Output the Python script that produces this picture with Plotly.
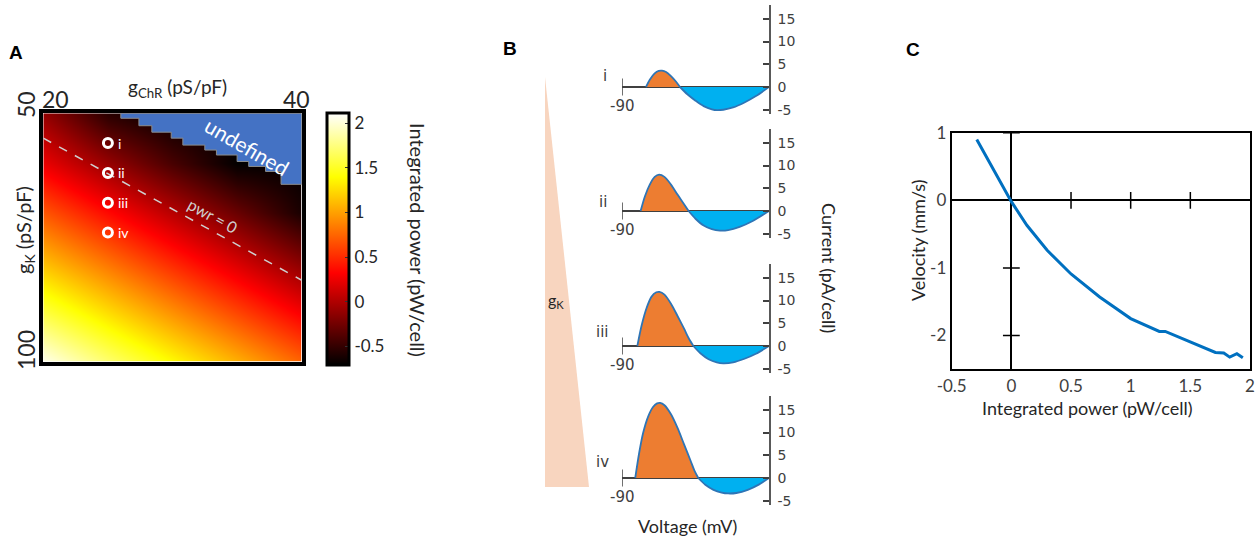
import plotly.graph_objects as go

W, H = 1255, 542
FONT = "Lato"
TXT = "#262626"

# ---------------- Panel A data ----------------
gchr = [20, 25, 30, 35, 40]
gk = [50, 60, 70, 80, 90, 100]
power_grid = [
    [-0.12, -0.55, -0.70, -0.70, -0.70],
    [0.24, -0.10, -0.42, -0.70, -0.70],
    [0.68, 0.35, 0.03, -0.29, -0.61],
    [1.12, 0.80, 0.48, 0.16, -0.16],
    [1.58, 1.25, 0.93, 0.61, 0.29],
    [2.05, 1.70, 1.38, 1.06, 0.74],
]
undef_gchr = [26.0, 26.0, 27.4, 28.4, 29.9, 30.8, 32.5, 33.4, 35.0, 35.9, 37.2, 38.4, 40.0, 40.0, 26.0]
undef_gk = [50.0, 51.0, 52.5, 53.8, 55.0, 56.4, 57.4, 58.4, 59.7, 60.7, 61.7, 64.3, 64.3, 50.0, 50.0]
pwr0_gchr = [20, 40]
pwr0_gk = [55.0, 83.6]
pts_gchr = [25, 25, 25, 25]
pts_gk = [56, 62, 68, 74]
pts_labels = ["i", "ii", "iii", "iv"]
cbar_ticks = [-0.5, 0, 0.5, 1, 1.5, 2]
cbar_text = ["-0.5", "0", "0.5", "1", "1.5", "2"]

# ---------------- Panel B data ----------------
volt_i = [-75.3, -73, -70, -67.5, -65.5, -63, -60, -57, -54.5,
          -50, -45, -40, -35, -31.8, -28, -22, -15, -8, 0]
curr_i = [0, 1.6, 3.0, 3.55, 3.6, 3.3, 2.4, 1.2, 0,
          -1.6, -3.0, -4.2, -4.9, -5.1, -5.0, -4.5, -3.4, -2.0, 0]
volt_ii = [-78.6, -76, -73, -70, -67.3, -64, -60, -56, -52, -49.2,
           -45, -40, -35, -30, -25, -18, -10, 0]
curr_ii = [0, 3.2, 5.8, 7.5, 8.0, 7.5, 5.8, 3.6, 1.5, 0,
           -1.7, -3.2, -4.0, -4.3, -4.2, -3.5, -2.2, 0]
volt_iii = [-80.6, -78, -75, -72, -69, -67.1, -64, -60, -56, -52, -49, -46.3,
            -42, -37, -32, -28, -22, -15, -8, 0]
curr_iii = [0, 4.5, 8.3, 10.8, 11.8, 11.9, 11.3, 9.3, 6.6, 3.8, 1.6, 0,
            -1.6, -2.9, -3.6, -3.8, -3.6, -2.8, -1.7, 0]
volt_iv = [-81.9, -79.5, -77, -74, -71, -68.5, -66.7, -64, -60, -56, -52, -48, -45.5, -43.3,
           -39, -34, -29, -25, -20, -13, -6, 0]
curr_iv = [0, 5.5, 10, 13.5, 15.6, 16.4, 16.5, 16.0, 14.0, 11.0, 7.4, 3.8, 1.5, 0,
           -1.5, -2.6, -3.2, -3.4, -3.3, -2.6, -1.4, 0]
b_labels = ["i", "ii", "iii", "iv"]
b_ticks = [-5, 0, 5, 10, 15]
v_start = -90

# ---------------- Panel C data ----------------
power_c = [-0.29, -0.175, -0.064, 0.0, 0.13, 0.30, 0.50, 0.74, 1.0, 1.10, 1.18, 1.24,
           1.29, 1.5, 1.71, 1.78, 1.83, 1.89, 1.94]
velocity_c = [0.90, 0.54, 0.20, -0.02, -0.37, -0.74, -1.09, -1.43, -1.75, -1.83, -1.89, -1.94,
              -1.94, -2.10, -2.25, -2.26, -2.32, -2.27, -2.33]
c_xticks = [-0.5, 0, 0.5, 1, 1.5, 2]
c_yticks = [1, 0, -1, -2]
c_xmarks = [0.5, 1, 1.5]
c_ymarks = [1, -1, -2]

fig = go.Figure()


def px_dom(a, b, total, flip=False):
    if flip:
        return [1 - b / total, 1 - a / total]
    return [a / total, b / total]


# ---------------- Panel A ----------------
hot = [[0, "#000000"], [0.365, "#ff0000"], [0.746, "#ffff00"], [1, "#ffffff"]]
fig.add_trace(go.Heatmap(
    x=gchr, y=gk, z=power_grid, zsmooth="best", colorscale=hot,
    zmin=-0.71, zmax=2.11, xaxis="x", yaxis="y", hoverinfo="skip",
    colorbar=dict(
        x=326.7 / W, xanchor="left", xpad=0, ypad=0,
        y=1 - 239.2 / H, yanchor="middle", len=251.7 / H, lenmode="fraction",
        thickness=22, thicknessmode="pixels", outlinewidth=3, outlinecolor="black",
        tickvals=cbar_ticks, ticktext=cbar_text, ticks="inside", ticklen=5,
        tickcolor="#333333", tickfont=dict(size=17, family=FONT, color=TXT),
    ),
))
fig.add_trace(go.Scatter(
    x=undef_gchr, y=undef_gk, mode="lines", line=dict(shape="hv", color="#8c8c8c", width=1),
    fill="toself", fillcolor="#4472C4", xaxis="x", yaxis="y", hoverinfo="skip", showlegend=False))
fig.add_trace(go.Scatter(
    x=pwr0_gchr, y=pwr0_gk, mode="lines", line=dict(color="#cfcfcf", width=1.5, dash="dash"),
    xaxis="x", yaxis="y", hoverinfo="skip", showlegend=False))
fig.add_trace(go.Scatter(
    x=pts_gchr, y=pts_gk, mode="markers",
    marker=dict(symbol="circle-open", size=9, color="white", line=dict(width=3, color="white")),
    xaxis="x", yaxis="y", hoverinfo="skip", showlegend=False))
for gx, gy, lab in zip(pts_gchr, pts_gk, pts_labels):
    fig.add_annotation(text=lab, x=gx, y=gy, xref="x", yref="y", xanchor="left", xshift=8,
                       showarrow=False, font=dict(size=14, color="white", family=FONT))
fig.add_annotation(text="undefined", x=35.8, y=56.6, xref="x", yref="y", textangle=30,
                   showarrow=False, font=dict(size=21, color="white", family=FONT))
fig.add_annotation(text="pwr = 0", x=33.1, y=70.6, xref="x", yref="y", textangle=29,
                   showarrow=False, font=dict(size=16, color="#d0d0d0", family=FONT))

axA = dict(showgrid=False, zeroline=False, showticklabels=False, ticks="",
           showline=True, mirror=True, linecolor="black", linewidth=3.5)
fig.update_layout(
    xaxis=dict(domain=px_dom(43.3, 301.7, W), range=[20, 40], anchor="y", **axA),
    yaxis=dict(domain=px_dom(113.3, 361.7, H, True), range=[100, 50], anchor="x", **axA),
)

# ---------------- Panel B ----------------
b_volts = [volt_i, volt_ii, volt_iii, volt_iv]
b_currs = [curr_i, curr_ii, curr_iii, curr_iv]
b_zero_px = [87, 211, 346, 478]
PXU = 4.55
for k in range(4):
    ax_n = k + 2
    xr, yr = f"x{ax_n}", f"y{ax_n}"
    v, c = b_volts[k], b_currs[k]
    zi = max(j for j in range(1, len(c) - 1) if c[j] == 0)
    fig.add_trace(go.Scatter(
        x=v[:zi + 1], y=c[:zi + 1], mode="lines", fill="tozeroy", fillcolor="#ED7D31",
        line=dict(color="#2E75B6", width=1.8, shape="spline", smoothing=0.8),
        xaxis=xr, yaxis=yr, hoverinfo="skip", showlegend=False))
    fig.add_trace(go.Scatter(
        x=v[zi:], y=c[zi:], mode="lines", fill="tozeroy", fillcolor="#00B0F0",
        line=dict(color="#2E75B6", width=1.8, shape="spline", smoothing=0.8),
        xaxis=xr, yaxis=yr, hoverinfo="skip", showlegend=False))
    fig.add_trace(go.Scatter(
        x=[v_start], y=[0], mode="markers",
        marker=dict(symbol="line-ns-open", size=12, color="#404040",
                    line=dict(width=1.5, color="#404040")),
        xaxis=xr, yaxis=yr, hoverinfo="skip", showlegend=False))
    z = b_zero_px[k]
    top, bot = z - 18 * PXU, z + 6 * PXU
    fig.layout[f"xaxis{ax_n}"] = dict(domain=px_dom(622, 769, W), range=[-90, 0], visible=False,
                                      anchor=yr)
    fig.layout[f"yaxis{ax_n}"] = dict(
        domain=px_dom(top, bot, H, True), range=[-6, 18], anchor=xr, side="right",
        showline=True, linecolor="#595959", linewidth=1.5, ticks="inside", ticklen=6,
        tickcolor="#404040", tickwidth=1.5, tickvals=b_ticks, ticktext=[str(t) for t in b_ticks],
        tickfont=dict(size=14, family="DejaVu Sans", color="#404040"), ticklabelstandoff=4,
        showgrid=False, zeroline=True, zerolinecolor="#404040", zerolinewidth=1.5,
        layer="above traces")
    fig.add_annotation(text="-90", x=v_start, y=0, xref=xr, yref=yr, yshift=-19,
                       showarrow=False, font=dict(size=15, family="DejaVu Sans", color="#404040"))

# ---------------- Panel C ----------------
fig.add_trace(go.Scatter(
    x=power_c, y=velocity_c, mode="lines", line=dict(color="#0070C0", width=3),
    xaxis="x6", yaxis="y6", hoverinfo="skip", showlegend=False))
fig.add_trace(go.Scatter(
    x=c_xmarks, y=[0] * len(c_xmarks), mode="markers",
    marker=dict(symbol="line-ns-open", size=12, color="black", line=dict(width=1.5, color="black")),
    xaxis="x6", yaxis="y6", hoverinfo="skip", showlegend=False))
fig.add_trace(go.Scatter(
    x=[0] * len(c_ymarks), y=c_ymarks, mode="markers",
    marker=dict(symbol="line-ew-open", size=12, color="black", line=dict(width=1.5, color="black")),
    xaxis="x6", yaxis="y6", hoverinfo="skip", showlegend=False))
axC = dict(showgrid=False, showline=True, mirror=True, linecolor="black", linewidth=2,
           ticks="", zeroline=True, zerolinecolor="black", zerolinewidth=1.5,
           tickfont=dict(size=17, family=FONT, color="#404040"))
fig.layout["xaxis6"] = dict(domain=px_dom(951.7, 1250, W), range=[-0.5, 2], anchor="y6",
                            tickvals=c_xticks, ticktext=["-0.5", "0", "0.5", "1", "1.5", "2"], **axC)
fig.layout["yaxis6"] = dict(domain=px_dom(132.7, 369.3, H, True), range=[-2.5, 1], anchor="x6",
                            tickvals=c_yticks, ticktext=["1", "0", "-1", "-2"], **axC)


# ---------------- Text & decorations ----------------
def pann(text, px, py, size, angle=0, color=TXT, family=FONT, bold=False):
    fig.add_annotation(text=f"<b>{text}</b>" if bold else text, x=px / W, y=1 - py / H,
                       xref="paper", yref="paper", showarrow=False, textangle=angle,
                       xanchor="center", yanchor="middle",
                       font=dict(size=size, color=color, family=family))


pann("A", 16, 52, 19, family="Arial", bold=True, color="black")
pann("B", 510, 48, 19, family="Arial", bold=True, color="black")
pann("C", 913, 50, 19, family="Arial", bold=True, color="black")
pann("g<sub>ChR</sub> (pS/pF)", 177, 88, 19)
pann("20", 55, 99, 23)
pann("40", 296, 99, 23)
pann("50", 26, 105, 23, angle=-90)
pann("100", 26, 350, 23, angle=-90)
pann("g<sub>K</sub> (pS/pF)", 24, 230, 20, angle=-90)
pann("Integrated power (pW/cell)", 418, 240, 20, angle=90)

for lab, px, py in zip(b_labels, [605, 603, 602, 602], [76, 202, 332, 462]):
    pann(lab, px, py, 15, color="#404040", family="DejaVu Sans")
pann("Voltage (mV)", 687, 526, 18)
pann("Current (pA/cell)", 829, 268, 18, angle=90)
pann("g<sub>K</sub>", 556, 300, 16)

pann("Velocity (mm/s)", 918, 240, 18, angle=-90)
pann("Integrated power (pW/cell)", 1087, 408, 18)

fig.add_shape(type="path", xref="paper", yref="paper", layer="below",
              path=f"M {545/W},{1-77/H} L {545/W},{1-487/H} L {589/W},{1-487/H} Z",
              fillcolor="#F8D5BF", line=dict(width=0))

fig.update_layout(width=W, height=H, margin=dict(l=0, r=0, t=0, b=0, autoexpand=False),
                  paper_bgcolor="white", plot_bgcolor="rgba(0,0,0,0)", showlegend=False)
fig.write_html("out.html", config={"displayModeBar": False},
               post_script="document.body.style.margin='0';document.body.style.overflow='hidden';")
